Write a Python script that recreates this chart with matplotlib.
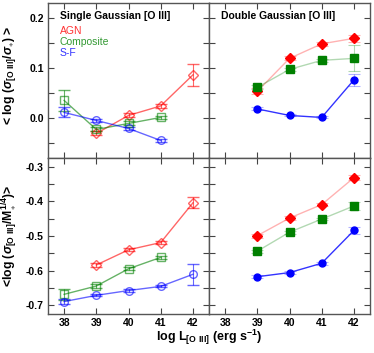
import matplotlib
matplotlib.use("Agg")
import matplotlib.pyplot as plt
from matplotlib.ticker import MultipleLocator

plt.rcParams["font.family"] = ["Liberation Sans", "DejaVu Sans"]
plt.rcParams["font.weight"] = "bold"
plt.rcParams["mathtext.fontset"] = "custom"
plt.rcParams["mathtext.rm"] = "Liberation Sans:bold"
plt.rcParams["mathtext.it"] = "Liberation Sans:italic:bold"
plt.rcParams["mathtext.bf"] = "Liberation Sans:bold"

# log L[O III] bins
lum = [38, 39, 40, 41, 42]

# Single Gaussian, <log(sigma_OIII / sigma_*)>
sg_agn_x = [39, 40, 41, 42]
sg_agn = [-0.031, 0.005, 0.024, 0.086]
sg_agn_err = [0.004, 0.004, 0.004, 0.022]
sg_comp_x = [38, 39, 40, 41]
sg_comp = [0.035, -0.023, -0.011, 0.001]
sg_comp_err = [0.021, 0.004, 0.004, 0.003]
sg_sf_x = [38, 39, 40, 41]
sg_sf = [0.011, -0.005, -0.021, -0.045]
sg_sf_err = [0.010, 0.003, 0.003, 0.003]

# Double Gaussian, <log(sigma_OIII / sigma_*)>
dg_x = [39, 40, 41, 42]
dg_agn = [0.053, 0.119, 0.148, 0.159]
dg_agn_err = [0.006, 0.004, 0.004, 0.007]
dg_comp = [0.061, 0.097, 0.115, 0.119]
dg_comp_err = [0.004, 0.003, 0.003, 0.026]
dg_sf = [0.018, 0.005, 0.001, 0.076]
dg_sf_err = [0.003, 0.002, 0.002, 0.012]

# Single Gaussian, <log(sigma_OIII / M_*^1/4)>
sm_agn_x = [39, 40, 41, 42]
sm_agn = [-0.584, -0.540, -0.519, -0.404]
sm_agn_err = [0.005, 0.004, 0.005, 0.016]
sm_comp_x = [38, 39, 40, 41]
sm_comp = [-0.669, -0.645, -0.595, -0.562]
sm_comp_err = [0.015, 0.005, 0.004, 0.004]
sm_sf_x = [38, 39, 40, 41, 42]
sm_sf = [-0.690, -0.672, -0.658, -0.646, -0.611]
sm_sf_err = [0.007, 0.003, 0.003, 0.003, 0.030]

# Double Gaussian, <log(sigma_OIII / M_*^1/4)>
dm_agn = [-0.499, -0.448, -0.409, -0.331]
dm_agn_err = [0.006, 0.005, 0.005, 0.007]
dm_comp = [-0.544, -0.489, -0.451, -0.413]
dm_comp_err = [0.004, 0.004, 0.004, 0.012]
dm_sf = [-0.618, -0.606, -0.579, -0.484]
dm_sf_err = [0.004, 0.004, 0.004, 0.010]

RED = "#ff0000"
GREEN = "#008000"
BLUE = "#0000ff"

fig = plt.figure(figsize=(3.74, 3.53), dpi=100)
W, H = 374, 353


def box(x0, y0, x1, y1):
    return [x0 / W, 1 - y1 / H, (x1 - x0) / W, (y1 - y0) / H]


ax_tl = fig.add_axes(box(48, 3.3, 209, 158))
ax_tr = fig.add_axes(box(209, 3.3, 370, 158))
ax_bl = fig.add_axes(box(48, 158, 209, 314))
ax_br = fig.add_axes(box(209, 158, 370, 314))


def open_series(ax, x, y, err, color, marker, ms):
    ax.errorbar(x, y, yerr=err, color=color, alpha=0.6, lw=1.0,
                marker=marker, ms=ms, mfc="none", mew=1.0,
                capsize=4, elinewidth=0.8, capthick=0.8)


def filled_series(ax, x, y, err, color, marker, ms, line_alpha):
    ax.errorbar(x, y, yerr=err, color=color, alpha=0.3, lw=1.0,
                fmt="none", capsize=4, elinewidth=0.8, capthick=0.8)
    ax.plot(x, y, color=color, alpha=line_alpha, lw=1.0)
    ax.plot(x, y, ls="none", marker=marker, ms=ms, color=color, mec=color)


open_series(ax_tl, sg_agn_x, sg_agn, sg_agn_err, RED, "D", 5)
open_series(ax_tl, sg_comp_x, sg_comp, sg_comp_err, GREEN, "s", 5.5)
open_series(ax_tl, sg_sf_x, sg_sf, sg_sf_err, BLUE, "o", 5.5)

filled_series(ax_tr, dg_x, dg_agn, dg_agn_err, RED, "D", 4.8, 0.3)
filled_series(ax_tr, dg_x, dg_comp, dg_comp_err, GREEN, "s", 5.2, 0.3)
filled_series(ax_tr, dg_x, dg_sf, dg_sf_err, BLUE, "o", 5.0, 0.8)

open_series(ax_bl, sm_agn_x, sm_agn, sm_agn_err, RED, "D", 5)
open_series(ax_bl, sm_comp_x, sm_comp, sm_comp_err, GREEN, "s", 5.5)
open_series(ax_bl, sm_sf_x, sm_sf, sm_sf_err, BLUE, "o", 5.5)

filled_series(ax_br, dg_x, dm_agn, dm_agn_err, RED, "D", 4.8, 0.3)
filled_series(ax_br, dg_x, dm_comp, dm_comp_err, GREEN, "s", 5.2, 0.3)
filled_series(ax_br, dg_x, dm_sf, dm_sf_err, BLUE, "o", 5.0, 0.8)

for ax in [ax_tl, ax_tr, ax_bl, ax_br]:
    ax.set_xlim(37.5, 42.5)
    ax.set_xticks(lum)
    ax.yaxis.set_major_locator(MultipleLocator(0.1))
    ax.yaxis.set_minor_locator(MultipleLocator(0.05))
    ax.tick_params(which="both", direction="in", top=True, right=True,
                   length=4, width=0.8, color="#444444", labelsize=7.5, pad=3)
    for s in ax.spines.values():
        s.set_color("#555555")
        s.set_linewidth(1.0)

for ax in [ax_tl, ax_tr]:
    ax.set_ylim(-0.08, 0.229)
    ax.tick_params(labelbottom=False)
for ax in [ax_bl, ax_br]:
    ax.set_ylim(-0.726, -0.274)
for ax in [ax_tr, ax_br]:
    ax.tick_params(labelleft=False)

ax_tl.set_yticklabels([f"{v:.1f}" for v in ax_tl.get_yticks()])
ax_bl.set_yticklabels([f"{v:.1f}" for v in ax_bl.get_yticks()])

fig.text(60 / W, 1 - 16 / H, "Single Gaussian [O III]",
         fontsize=7.5, fontweight="bold", va="center")
fig.text(221 / W, 1 - 16 / H, "Double Gaussian [O III]",
         fontsize=7.5, fontweight="bold", va="center")
for label, color, yy in [("AGN", RED, 31.5), ("Composite", GREEN, 42),
                         ("S-F", BLUE, 52.5)]:
    fig.text(60 / W, 1 - yy / H, label, color=color, alpha=0.8,
             fontsize=7.5, fontweight="normal", va="center")

fig.text(9.5 / W, 1 - 75 / H,
         r"< log ($\mathit{\sigma}_{\rm [O\ III]}/\mathit{\sigma}_{\ast}$) >",
         rotation=90, fontsize=8.8, fontweight="bold", ha="center", va="center")
fig.text(9.5 / W, 1 - 236 / H,
         r"<log ($\mathit{\sigma}_{\rm [O\ III]}/\rm M_{\ast}^{1/4}$)>",
         rotation=90, fontsize=8.8, fontweight="bold", ha="center", va="center")
fig.text(209 / W, 1 - 337 / H, r"log L$_{\rm [O\ III]}$ (erg s$^{-1}$)",
         fontsize=9, fontweight="bold", ha="center", va="center")

fig.savefig("out.png", dpi=100)
